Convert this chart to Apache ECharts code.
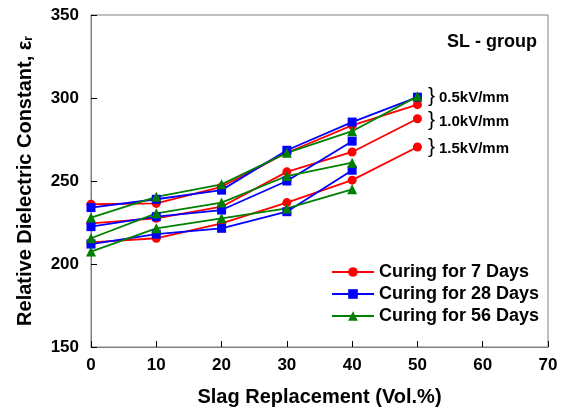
<!DOCTYPE html>
<html>
<head>
<meta charset="utf-8">
<script src="https://cdn.jsdelivr.net/npm/echarts@6/dist/echarts.min.js"></script>
<style>html,body{margin:0;padding:0;background:#fff;}#main{width:568px;height:414px;}</style>
</head>
<body>
<div id="main"></div>
<script>
var xs = [0, 10, 20, 30, 40, 50];
// 7 days (red)
var red05 = [236, 236.5, 246.5, 267, 283.5, 296];
var red10 = [224.5, 227.5, 234.5, 255.5, 267.5, 287.5];
var red15 = [213, 215.5, 224.5, 237, 250.5, 270.5];
// 28 days (blue)
var blue05 = [234, 239, 244.5, 268.5, 285.5, 300.5];
var blue10 = [222.5, 228.5, 232.5, 250, 274];
var blue15 = [212, 218, 221.5, 231.5, 256.5];
// 56 days (green)
var green05 = [228, 240.5, 248, 267, 280, 301];
var green10 = [215.5, 230.5, 237, 253, 261];
var green15 = [207.5, 221.5, 227.5, 233.5, 245];

var names = ['Curing for 7 Days', 'Curing for 28 Days', 'Curing for 56 Days'];
var colors = ['#ff0000', '#0000ff', '#008000'];
var symbols = ['circle', 'rect', 'triangle'];
var groups = [[red05, red10, red15], [blue05, blue10, blue15], [green05, green10, green15]];
var fieldLabels = ['0.5kV/mm', '1.0kV/mm', '1.5kV/mm'];

var font = 'Arial, "Liberation Sans", sans-serif';

function pairs(ys) {
    return ys.map(function (y, i) { return [xs[i], y]; });
}

var series = [];
groups.forEach(function (g, k) {
    g.forEach(function (ys) {
        series.push({
            name: names[k],
            type: 'line',
            data: pairs(ys),
            symbol: symbols[k],
            symbolSize: k == 2 ? 10 : 9,
            lineStyle: {color: colors[k], width: 1.8},
            itemStyle: {color: colors[k]},
            animation: false
        });
    });
});

var chart = echarts.init(document.getElementById('main'));
chart.setOption({
    backgroundColor: '#fff',
    grid: {left: 91, right: 20, top: 15, bottom: 67, show: true, borderColor: '#808080', borderWidth: 1},
    legend: {
        data: names,
        orient: 'vertical',
        left: 326,
        top: 258,
        itemWidth: 42,
        itemHeight: 12,
        itemGap: 4,
        textStyle: {fontFamily: font, fontWeight: 'bold', fontSize: 18, color: '#000'}
    },
    xAxis: {
        type: 'value',
        min: 0, max: 70, interval: 10,
        name: 'Slag Replacement (Vol.%)',
        nameLocation: 'middle',
        nameGap: 40,
        nameTextStyle: {fontFamily: font, fontWeight: 'bold', fontSize: 20, color: '#000'},
        axisLine: {lineStyle: {color: '#808080'}},
        axisTick: {inside: true, length: 6, lineStyle: {color: '#000'}},
        axisLabel: {fontFamily: font, fontWeight: 'bold', fontSize: 17, color: '#000', margin: 10},
        splitLine: {show: false}
    },
    yAxis: {
        type: 'value',
        min: 150, max: 350, interval: 50,
        name: '{a|Relative Dielectric Constant, ε}{s|r}',
        nameLocation: 'middle',
        nameGap: 56,
        nameTextStyle: {
            rich: {
                a: {fontFamily: font, fontWeight: 'bold', fontSize: 20, color: '#000'},
                s: {fontFamily: font, fontWeight: 'bold', fontSize: 12, color: '#000', verticalAlign: 'bottom', padding: [8, 0, 0, 0]}
            }
        },
        axisLine: {show: true, lineStyle: {color: '#808080'}},
        axisTick: {show: true, inside: true, length: 6, lineStyle: {color: '#000'}},
        axisLabel: {fontFamily: font, fontWeight: 'bold', fontSize: 17, color: '#000', margin: 12},
        splitLine: {show: false}
    },
    graphic: [
        {type: 'text', left: 447, top: 33, style: {text: 'SL - group', font: 'bold 18px ' + font, fill: '#000'}},
        {type: 'text', left: 428, top: 86, style: {text: '}', font: '21px ' + font, fill: '#000'}},
        {type: 'text', left: 439, top: 90, style: {text: fieldLabels[0], font: 'bold 15px ' + font, fill: '#000'}},
        {type: 'text', left: 428, top: 110, style: {text: '}', font: '21px ' + font, fill: '#000'}},
        {type: 'text', left: 439, top: 114, style: {text: fieldLabels[1], font: 'bold 15px ' + font, fill: '#000'}},
        {type: 'text', left: 428, top: 137, style: {text: '}', font: '21px ' + font, fill: '#000'}},
        {type: 'text', left: 439, top: 141, style: {text: fieldLabels[2], font: 'bold 15px ' + font, fill: '#000'}}
    ],
    series: series
});
</script>
</body>
</html>
